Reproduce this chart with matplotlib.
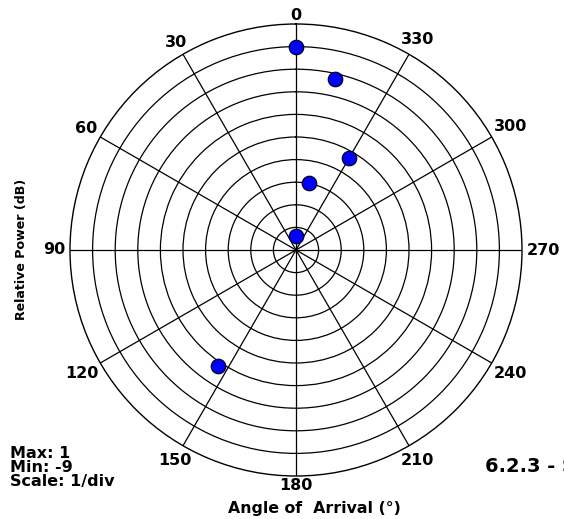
import numpy as np
import matplotlib
matplotlib.use("Agg")
import matplotlib.pyplot as plt

# Arrival angles (degrees) and relative power (dB) of the detected paths
angles_deg = [0, 347, 330, 349, 0, 146]
power_db = [0.0, -1.25, -4.3, -6.0, -8.4, -2.8]

r_min, r_max, r_step = -9, 1, 1
theta_ticks = list(range(0, 360, 30))
theta_labels = [str(a) for a in theta_ticks]

plt.rcParams['font.family'] = ['DejaVu Sans']

fig = plt.figure(figsize=(5.64, 5.19), dpi=100)
ax = fig.add_axes([70 / 564, 43 / 519, 452 / 564, 452 / 519], projection='polar')

ax.set_theta_zero_location('N')
ax.set_theta_direction(1)
ax.set_ylim(r_min, r_max)
ax.set_yticks(np.arange(r_min + r_step, r_max, r_step))
ax.set_yticklabels([])
ax.set_xticks(np.deg2rad(theta_ticks))
ax.set_xticklabels([])
ax.grid(True, color='black', linewidth=0.9)
ax.spines['polar'].set_color('black')
ax.spines['polar'].set_linewidth(1.0)

ax.plot(np.deg2rad(angles_deg), power_db, 'o', markersize=10.5,
        markerfacecolor='#0000ff', markeredgecolor='black', markeredgewidth=0.8,
        clip_on=False, zorder=5)

# Angle labels: sit each one just outside the rim, with its nearest edge
# a few pixels away from the circle.
renderer = fig.canvas.get_renderer()
radius_px = ax.get_window_extent(renderer).width / 2
for ang, lab in zip(theta_ticks, theta_labels):
    th = np.deg2rad(ang)
    t = ax.text(th, r_max, lab, ha='center', va='center', fontsize=11.5,
                fontweight='bold', clip_on=False)
    bb = t.get_window_extent(renderer)
    sx, sy = abs(np.sin(th)), abs(np.cos(th))
    gap = 4.5 - 3.0 * sy
    dist = radius_px + gap + sx * bb.width / 2 + sy * bb.height / 2
    t.set_position((th, r_min + (r_max - r_min) * dist / radius_px))

fig.text(22 / 564, 1 - 249 / 519, 'Relative Power (dB)', rotation=90,
         ha='center', va='center', fontsize=9.1, fontweight='bold')
fig.text(314 / 564, 1 - 509 / 519, 'Angle of  Arrival (°)',
         ha='center', va='center', fontsize=11.3, fontweight='bold')
fig.text(10 / 564, 1 - 486 / 519, 'Max: 1\nMin: -9\nScale: 1/div',
         ha='left', va='baseline', fontsize=11.5, fontweight='bold',
         linespacing=0.9)
fig.text(485 / 564, 1 - 472 / 519, '6.2.3 - S',
         ha='left', va='baseline', fontsize=14, fontweight='bold')

fig.savefig('out.png', dpi=100)
